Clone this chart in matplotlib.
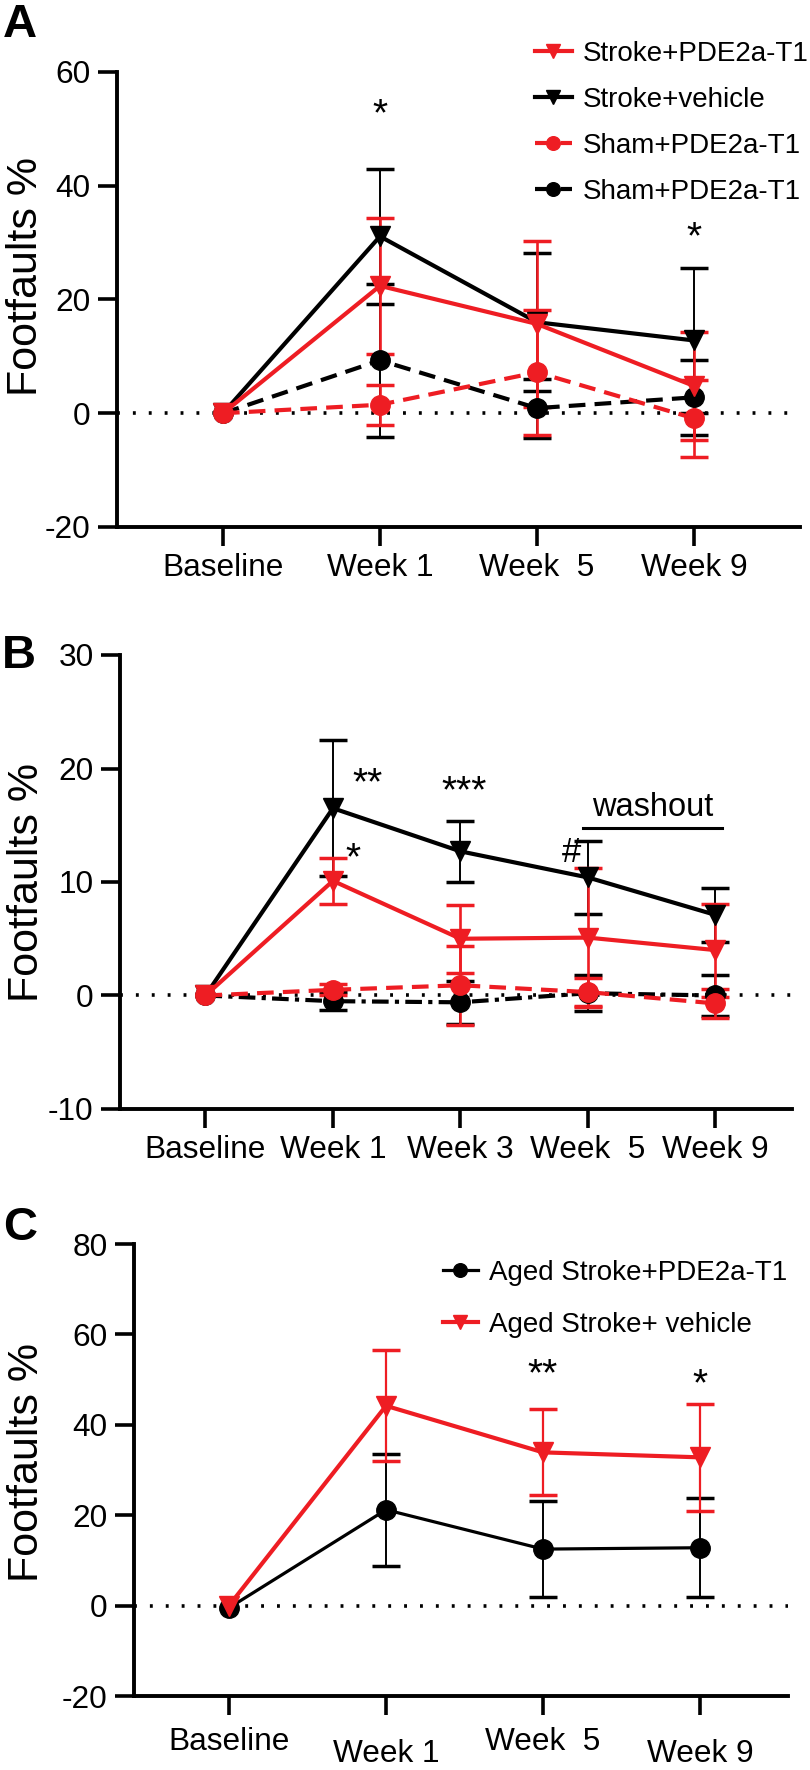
import matplotlib
matplotlib.use('Agg')
import matplotlib.pyplot as plt

plt.rcParams['font.family'] = ['Liberation Sans', 'DejaVu Sans']
plt.rcParams['axes.unicode_minus'] = False

RED = '#ee1d23'

# ---- panel A data (weeks after baseline get error bars) ----
a_labels = ['Baseline', 'Week 1', 'Week  5', 'Week 9']
a_stroke_pde = [0, 22.4, 15.7, 4.8]
a_stroke_pde_err = [12.0, 14.6, 9.5]
a_stroke_veh = [0, 31.1, 16.0, 12.8]
a_stroke_veh_err = [11.9, 12.1, 12.8]
a_sham_red = [0, 1.5, 7.2, -0.9]
a_sham_red_err = [3.5, 11.0, 6.8]
a_sham_black = [0, 9.3, 0.9, 2.8]
a_sham_black_err = [13.5, 5.2, 6.6]

# ---- panel B data ----
b_labels = ['Baseline', 'Week 1', 'Week 3', 'Week  5', 'Week 9']
b_stroke_pde = [0, 10.1, 5.0, 5.1, 4.0]
b_stroke_pde_err = [2.0, 3.0, 6.1, 4.1]
b_stroke_veh = [0, 16.5, 12.7, 10.4, 7.1]
b_stroke_veh_err = [6.0, 2.7, 3.2, 2.4]
b_sham_red = [0, 0.5, 0.9, 0.3, -0.7]
b_sham_red_err = [0.5, 3.5, 1.2, 1.3]
b_sham_black = [0, -0.5, -0.6, 0.2, 0.0]
b_sham_black_err = [0.8, 1.9, 1.6, 1.8]

# ---- panel C data ----
c_labels = ['Baseline', 'Week 1', 'Week  5', 'Week 9']
c_aged_pde = [-0.5, 21.2, 12.5, 12.8]
c_aged_pde_err = [12.4, 10.7, 11.0]
c_aged_veh = [0, 44.2, 33.9, 32.8]
c_aged_veh_err = [12.3, 9.5, 11.8]

W, H = 810, 1770
fig = plt.figure(figsize=(W / 100, H / 100), dpi=100)


def box(l, t, r, b):
    return [l / W, 1 - b / H, (r - l) / W, (b - t) / H]


def style(ax, labels, xlim, ylim, yticks):
    ax.set_xlim(xlim)
    ax.set_ylim(ylim)
    for s in ['top', 'right']:
        ax.spines[s].set_visible(False)
    for s in ['left', 'bottom']:
        ax.spines[s].set_linewidth(2.8)
    ax.set_yticks(yticks)
    ax.set_xticks(range(len(labels)))
    ax.set_xticklabels(labels)
    ax.tick_params(direction='out', length=14, width=2.6, labelsize=22.8, pad=5)
    ax.axhline(0, color='black', lw=2.6, ls=(0, (0.8, 3.6)), zorder=1)


def series(ax, y, err, color, marker, ls, lw=3.0, elw=1.4, label=None):
    x = list(range(len(y)))
    ax.errorbar(x[1:], y[1:], yerr=err, fmt='none', ecolor=color,
                elinewidth=elw, capsize=10, capthick=2.5, zorder=3)
    line, = ax.plot(x, y, color=color, marker=marker, ls=ls, lw=lw, ms=14,
                    label=label, zorder=4)
    return line


# ================= A =================
ax = fig.add_axes(box(117, 72, 800, 527))
style(ax, a_labels, (-0.675, 3.675), (-20, 60), [-20, 0, 20, 40, 60])
h2 = series(ax, a_stroke_veh, a_stroke_veh_err, 'black', 'v', '-', label='Stroke+vehicle')
h4 = series(ax, a_sham_black, a_sham_black_err, 'black', 'o', (0, (4, 2.2)), label='Sham+PDE2a-T1')
h3 = series(ax, a_sham_red, a_sham_red_err, RED, 'o', (0, (4, 2.2)), elw=1.9, label='Sham+PDE2a-T1')
h1 = series(ax, a_stroke_pde, a_stroke_pde_err, RED, 'v', '-', elw=1.9, label='Stroke+PDE2a-T1')
ax.text(1, 52.4, '*', ha='center', va='center', fontsize=28)
ax.text(3, 30.7, '*', ha='center', va='center', fontsize=28)
fig.legend([h1, h2, h3, h4], [h.get_label() for h in [h1, h2, h3, h4]],
           loc='upper left', bbox_to_anchor=(535 / W, 1 - 41 / H),
           frameon=False, fontsize=20, handlelength=1.33, handletextpad=0.4,
           labelspacing=0.72, borderpad=0, borderaxespad=0, markerscale=0.7)
fig.text(26 / W, 1 - 277 / H, 'Footfaults %', rotation=90, ha='center', va='center', fontsize=31)
fig.text(3 / W, 1 - 25 / H, 'A', fontsize=34, weight='bold', va='center')

# ================= B =================
ax = fig.add_axes(box(120, 655, 792, 1109))
style(ax, b_labels, (-0.67, 4.6), (-10, 30), [-10, 0, 10, 20, 30])
series(ax, b_stroke_veh, b_stroke_veh_err, 'black', 'v', '-')
series(ax, b_sham_black, b_sham_black_err, 'black', 'o', (0, (4, 1.5, 1, 1.5)))
series(ax, b_sham_red, b_sham_red_err, RED, 'o', (0, (4, 2.2)), elw=1.9)
series(ax, b_stroke_pde, b_stroke_pde_err, RED, 'v', '-', elw=1.9)
ax.text(1.27, 18.6, '**', ha='center', va='center', fontsize=28)
ax.text(1.16, 12.0, '*', ha='center', va='center', fontsize=28)
ax.text(2.03, 17.9, '***', ha='center', va='center', fontsize=28)
ax.text(2.87, 12.6, '#', ha='center', va='center', fontsize=25)
ax.text(3.51, 16.6, 'washout', ha='center', va='center', fontsize=23.5)
ax.plot([2.96, 4.05], [14.8, 14.8], color='black', lw=2.2)
fig.text(27 / W, 1 - 882 / H, 'Footfaults %', rotation=90, ha='center', va='center', fontsize=31)
fig.text(2 / W, 1 - 656 / H, 'B', fontsize=34, weight='bold', va='center')

# ================= C =================
ax = fig.add_axes(box(134, 1244, 788, 1696))
style(ax, c_labels, (-0.605, 3.56), (-20, 80), [-20, 0, 20, 40, 60, 80])
ax.tick_params(axis='x', pad=8)
for i in (1, 3):
    ax.xaxis.get_major_ticks()[i].set_pad(17)
k1 = series(ax, c_aged_pde, c_aged_pde_err, 'black', 'o', '-', lw=2.3, elw=1.4,
            label='Aged Stroke+PDE2a-T1')
k2 = series(ax, c_aged_veh, c_aged_veh_err, RED, 'v', '-', lw=3.0, elw=1.6,
            label='Aged Stroke+ vehicle')
ax.text(2, 50.9, '**', ha='center', va='center', fontsize=28)
ax.text(3, 48.7, '*', ha='center', va='center', fontsize=28)
fig.legend([k1, k2], [k1.get_label(), k2.get_label()],
           loc='upper left', bbox_to_anchor=(443 / W, 1 - 1260 / H),
           frameon=False, fontsize=20, handlelength=1.25, handletextpad=0.4,
           labelspacing=0.92, borderpad=0, borderaxespad=0, markerscale=0.7)
fig.text(27 / W, 1 - 1463 / H, 'Footfaults %', rotation=90, ha='center', va='center', fontsize=31)
fig.text(3 / W, 1 - 1228 / H, 'C', fontsize=34, weight='bold', va='center')

fig.savefig('out.png', dpi=100)
